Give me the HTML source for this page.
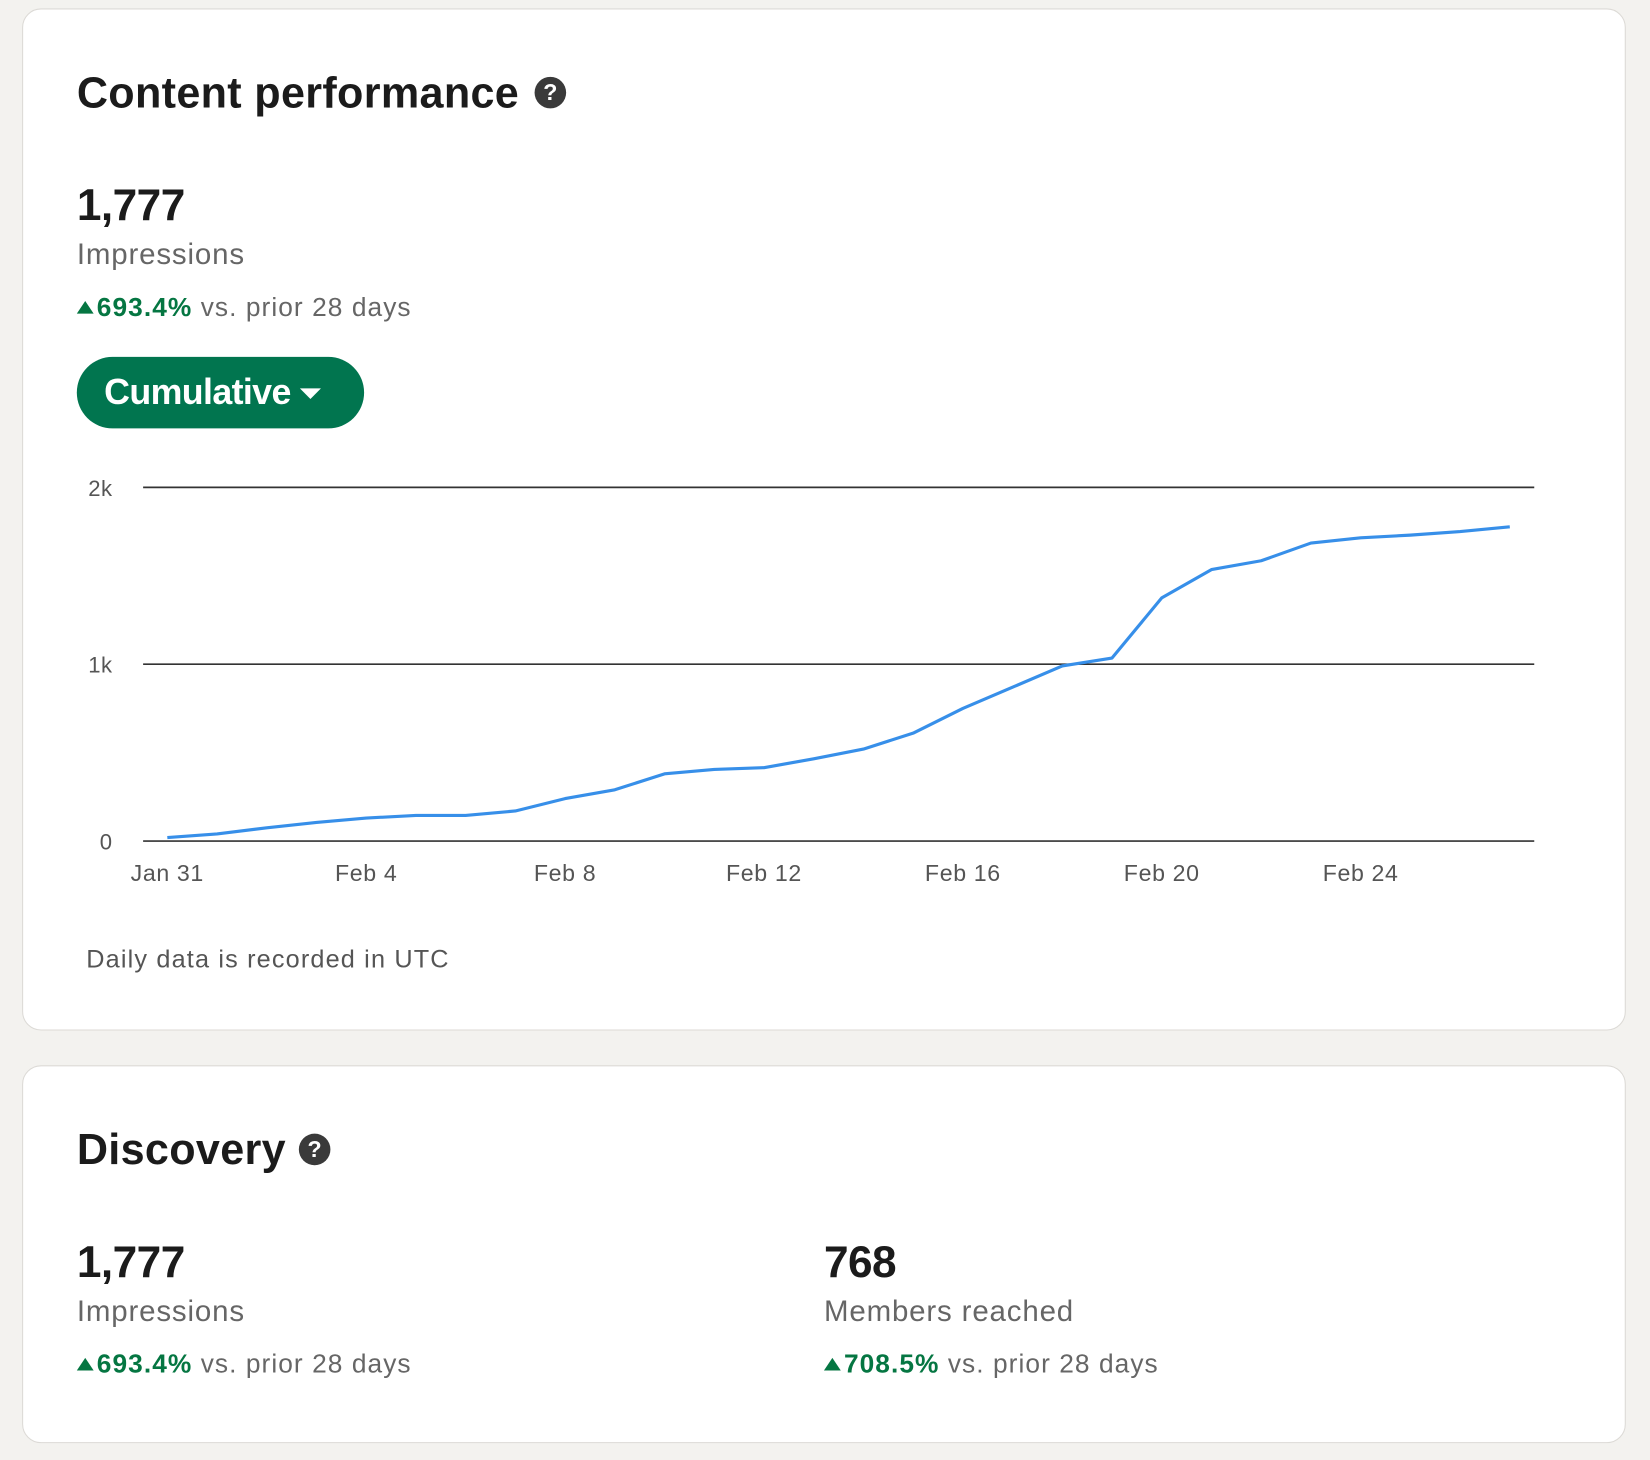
<!DOCTYPE html>
<html><head><meta charset="utf-8"><style>
html,body{margin:0;padding:0;width:1650px;height:1460px;overflow:hidden;background:#f3f2ef;font-family:"Liberation Sans",sans-serif;}
#wrap{position:absolute;left:0;top:0;width:1568px;height:1387px;transform:scale(1.05230,1.05263);transform-origin:0 0;}
.card{position:absolute;left:21px;width:1522px;background:#fff;border:1px solid #dcdad6;border-radius:18px;}
.abs{position:absolute;white-space:nowrap;}
.title{font-size:41px;font-weight:bold;color:#1b1b1b;letter-spacing:0.3px;}
.big{font-size:42px;font-weight:bold;color:#1b1b1b;letter-spacing:-0.5px;}
.lab{font-size:28px;color:#666;letter-spacing:0.8px;}
.chg{font-size:25px;color:#666;letter-spacing:1px;}
.chg b{color:#057642;}
.tri{display:inline-block;width:0;height:0;border-left:8px solid transparent;border-right:8px solid transparent;border-bottom:12px solid #057642;margin-right:3px;vertical-align:2px;}
.help{width:30px;height:30px;border-radius:50%;background:#3a3a3a;color:#fff;font-size:22px;font-weight:bold;text-align:center;line-height:30px;}
</style></head><body>
<div id="wrap">
<div class="card" style="top:8px;height:969px;"></div>
<div class="abs title" style="left:73px;top:65px;">Content performance</div>
<div class="abs help" style="left:508px;top:73px;">?</div>
<div class="abs big" style="left:73px;top:171px;">1,777</div>
<div class="abs lab" style="left:73px;top:226px;">Impressions</div>
<div class="abs chg" style="left:73px;top:278px;"><span class="tri"></span><b>693.4%</b> vs. prior 28 days</div>
<div class="abs" style="left:73px;top:339px;width:273px;height:68px;border-radius:34px;background:#01754f;color:#fff;font-size:34px;font-weight:bold;line-height:68px;">
<span style="position:absolute;left:26px;letter-spacing:-0.6px;">Cumulative</span>
<span style="position:absolute;left:212px;top:30px;width:0;height:0;border-left:10px solid transparent;border-right:10px solid transparent;border-top:10px solid #fff;"></span></div>
<svg id="chart" class="abs" style="left:0;top:0;" width="1568" height="900"></svg>
<div class="abs" style="left:82px;top:898px;font-size:24px;color:#555;letter-spacing:1.1px;">Daily data is recorded in UTC</div>

<div class="card" style="top:1012px;height:357px;"></div>
<div class="abs title" style="left:73px;top:1069px;">Discovery</div>
<div class="abs help" style="left:284px;top:1077px;">?</div>
<div class="abs big" style="left:73px;top:1175px;">1,777</div>
<div class="abs lab" style="left:73px;top:1230px;">Impressions</div>
<div class="abs chg" style="left:73px;top:1282px;"><span class="tri"></span><b>693.4%</b> vs. prior 28 days</div>
<div class="abs big" style="left:783px;top:1175px;">768</div>
<div class="abs lab" style="left:783px;top:1230px;">Members reached</div>
<div class="abs chg" style="left:783px;top:1282px;"><span class="tri"></span><b>708.5%</b> vs. prior 28 days</div>
</div>
<script>
const values=[20,40,75,105,130,145,145,170,240,290,380,405,415,465,520,610,750,870,990,1035,1375,1535,1585,1685,1715,1730,1750,1777];
const yTicks=[0,1000,2000];
const yTickLabels=["0","1k","2k"];
const xTickIdx=[0,4,8,12,16,20,24];
const xTickLabels=["Jan 31","Feb 4","Feb 8","Feb 12","Feb 16","Feb 20","Feb 24"];
const NS="http://www.w3.org/2000/svg";
const svg=document.getElementById('chart');
const x0=159,dx=47.25,yBase=799,yTop=463,maxV=2000,gl=136,gr=1458;
const X=i=>x0+i*dx;
const Y=v=>yBase-(v/maxV)*(yBase-yTop);
yTicks.forEach((t,k)=>{
 const l=document.createElementNS(NS,'line');
 l.setAttribute('x1',gl);l.setAttribute('x2',gr);l.setAttribute('y1',Y(t));l.setAttribute('y2',Y(t));
 l.setAttribute('stroke','#333');l.setAttribute('stroke-width','1.6');
 
 
 svg.appendChild(l);
 const tx=document.createElementNS(NS,'text');
 tx.setAttribute('x',107);tx.setAttribute('y',Y(t)+8);tx.setAttribute('text-anchor','end');
 tx.setAttribute('font-size','21');tx.setAttribute('fill','#555');tx.setAttribute('font-family','Liberation Sans, sans-serif');
 tx.setAttribute('letter-spacing','0.5');
 tx.textContent=yTickLabels[k];
 
 
 svg.appendChild(tx);
});
xTickIdx.forEach((i,k)=>{
 const tx=document.createElementNS(NS,'text');
 tx.setAttribute('x',X(i));tx.setAttribute('y',837);tx.setAttribute('text-anchor','middle');
 tx.setAttribute('font-size','22');tx.setAttribute('fill','#555');tx.setAttribute('font-family','Liberation Sans, sans-serif');
 tx.setAttribute('letter-spacing','0.6');
 tx.textContent=xTickLabels[k];
 
 
 svg.appendChild(tx);
});
const p=document.createElementNS(NS,'polyline');
p.setAttribute('points',values.map((v,i)=>X(i)+','+Y(v)).join(' '));
p.setAttribute('fill','none');p.setAttribute('stroke','#378fe9');p.setAttribute('stroke-width','3');p.setAttribute('stroke-linejoin','round');


svg.appendChild(p);
</script>
</body></html>
